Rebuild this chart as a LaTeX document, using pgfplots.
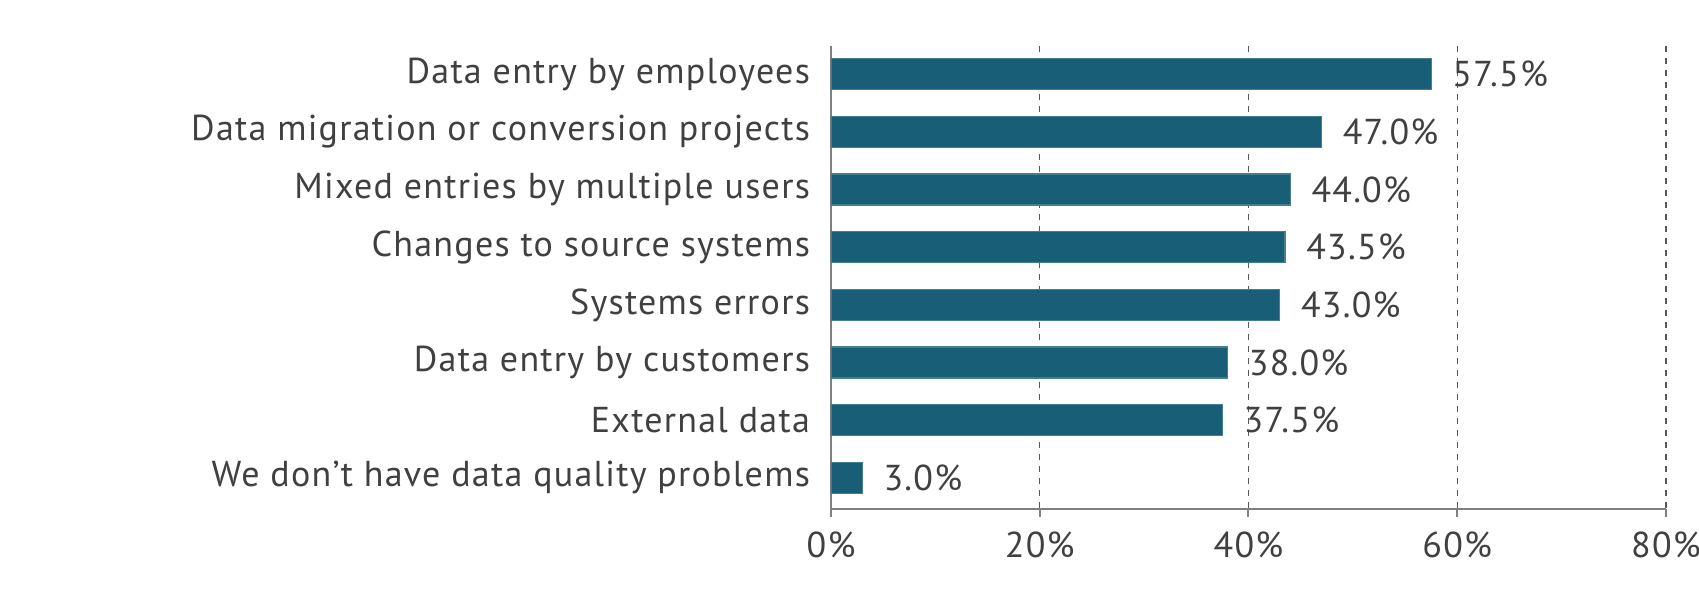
\documentclass[border=0pt]{standalone}
\usepackage{pgfplots}
\pgfplotsset{compat=1.18}
\usepackage{fontspec}
\setmainfont[LetterSpace=3.5]{PT Sans}
\definecolor{barfill}{HTML}{175E76}
\definecolor{txt}{HTML}{404040}
\definecolor{axl}{HTML}{808080}

\begin{document}
\begin{tikzpicture}
\begin{axis}[
    at={(0,0)}, anchor=south west,
    scale only axis,
    width=417.5pt, height=231.5pt,
    font=\fontsize{18}{21}\selectfont,
    /pgf/number format/assume math mode=true,
    xbar,
    bar width=15.5pt,
    xmin=0, xmax=80,
    ymin=-0.49, ymax=7.54,
    y dir=reverse,
    axis x line*=bottom,
    axis y line*=left,
    axis line style={axl, line width=1pt},
    xtick={0,20,40,60,80},
    xticklabel={\pgfmathprintnumber{\tick}\%},
    ytick={0,1,2,3,4,5,6,7},
    yticklabels={Data entry by employees,
                 Data migration or conversion projects,
                 Mixed entries by multiple users,
                 Changes to source systems,
                 Systems errors,
                 Data entry by customers,
                 External data,
                 We don’t have data quality problems},
    y tick label style={anchor=east, xshift=-3pt},
    x tick label style={yshift=-4pt},
    tick label style={txt},
    major y tick style={draw=none},
    major x tick style={axl, line width=1pt},
    xtick align=outside,
    major tick length=4pt,
    xmajorgrids,
    grid style={dashed, black!65, line width=0.7pt},
    nodes near coords={\pgfmathprintnumber[fixed,fixed zerofill,precision=1]{\pgfplotspointmeta}\%},
    point meta=x,
    every node near coord/.append style={anchor=west, xshift=7pt, txt},
]
\addplot[fill=barfill, draw=barfill!80!white, line width=0.6pt]
    coordinates {
(57.5,0)
(47.0,1)
(44.0,2)
(43.5,3)
(43.0,4)
(38.0,5)
(37.5,6)
(3.0,7)
    };
\end{axis}
\pgfresetboundingbox
\useasboundingbox (-415.5pt,-52pt) rectangle (434pt,254.5pt);
\end{tikzpicture}
\end{document}
